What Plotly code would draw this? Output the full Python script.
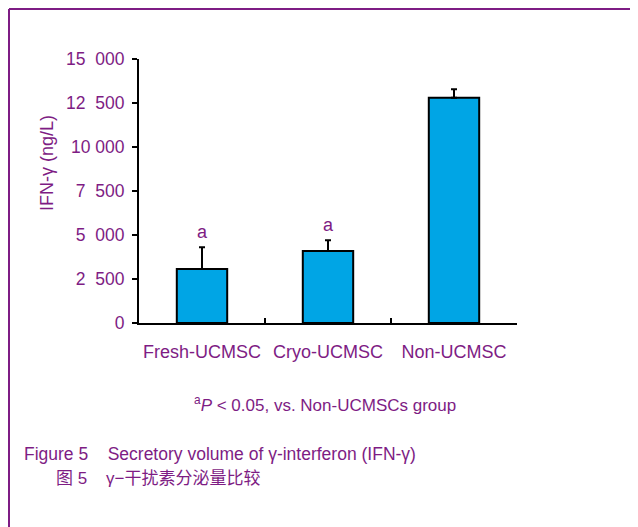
import plotly.graph_objects as go

categories = ["Fresh-UCMSC", "Cryo-UCMSC", "Non-UCMSC"]
values = [3070, 4090, 12800]
errors = [1230, 610, 480]
sig_labels = ["a", "a", ""]
y_tickvals = [0, 2500, 5000, 7500, 10000, 12500, 15000]
y_ticktext = ["0", "2\u00a0\u00a0500", "5\u00a0\u00a0000", "7\u00a0\u00a0500",
              "10\u00a0000", "12\u00a0\u00a0500", "15\u00a0\u00a0000"]

PURPLE = "#7E1C84"
FONT = "Liberation Sans, Arial, sans-serif"

OFF = 8  # page body margin
W, H = 638, 527
L, R, T, B = 139 - OFF, 517 - OFF, 59 - OFF, 323 - OFF


def px(x):
    return (x - OFF - L) / (R - L)


def py(y):
    return (B - (y - OFF)) / (B - T)


fig = go.Figure()
fig.add_trace(go.Bar(
    x=categories, y=values,
    marker=dict(color="#00A5E5", line=dict(color="black", width=2)),
    error_y=dict(type="data", array=errors, symmetric=False, arrayminus=[0, 0, 0],
                 color="black", thickness=2, width=3),
    width=0.4,
))

for c, v, e, s in zip(categories, values, errors, sig_labels):
    if s:
        fig.add_annotation(x=c, y=v + e, text=s, showarrow=False, yanchor="bottom",
                           yshift=3, font=dict(size=18, color=PURPLE, family=FONT))

fig.add_annotation(xref="paper", yref="paper", x=px(47), y=py(163), text="IFN-γ (ng/L)",
                   xanchor="center", yanchor="middle",
                   textangle=-90, showarrow=False, font=dict(size=18, color=PURPLE, family=FONT))
fig.add_annotation(xref="paper", yref="paper", x=px(325), y=py(404),
                   xanchor="center", yanchor="middle",
                   text="<sup>a</sup><i>P</i> < 0.05, vs. Non-UCMSCs group",
                   showarrow=False, font=dict(size=17, color=PURPLE, family=FONT))
fig.add_annotation(xref="paper", yref="paper", x=px(22), y=py(454), xanchor="left",
                   yanchor="middle",
                   text="Figure 5    Secretory volume of γ-interferon (IFN-γ)",
                   showarrow=False, font=dict(size=17.5, color=PURPLE, family=FONT))
fig.add_annotation(xref="paper", yref="paper", x=px(54), y=py(478), xanchor="left",
                   yanchor="middle",
                   text="图 5    γ−干扰素分泌量比较",
                   showarrow=False, font=dict(size=17, color=PURPLE,
                                              family="Liberation Sans, Noto Sans CJK SC"))

# frame lines
fig.add_shape(type="line", xref="paper", yref="paper", x0=px(9), x1=px(640), y0=py(9), y1=py(9),
              line=dict(color=PURPLE, width=2))
fig.add_shape(type="line", xref="paper", yref="paper", x0=px(9), x1=px(9), y0=py(9), y1=py(540),
              line=dict(color=PURPLE, width=2))

fig.update_layout(
    width=W, height=H,
    margin=dict(l=L, r=W - R, t=T, b=H - B),
    plot_bgcolor="white", paper_bgcolor="white",
    showlegend=False,
    font=dict(family=FONT, color=PURPLE),
    xaxis=dict(showline=True, linecolor="black", linewidth=2, ticks="inside", ticklen=5,
               tickwidth=2, tickcolor="black", tickson="boundaries", ticklabelstandoff=11,
               tickangle=0, tickfont=dict(size=18, color=PURPLE), showgrid=False),
    yaxis=dict(range=[0, 15000], showline=True, linecolor="black", linewidth=2,
               tickvals=y_tickvals, ticktext=y_ticktext, ticks="outside", ticklen=5,
               tickwidth=2, tickcolor="black", tickfont=dict(size=17.5, color=PURPLE),
               ticklabelstandoff=4, showgrid=False, zeroline=False),
)

fig.write_html("out.html")
